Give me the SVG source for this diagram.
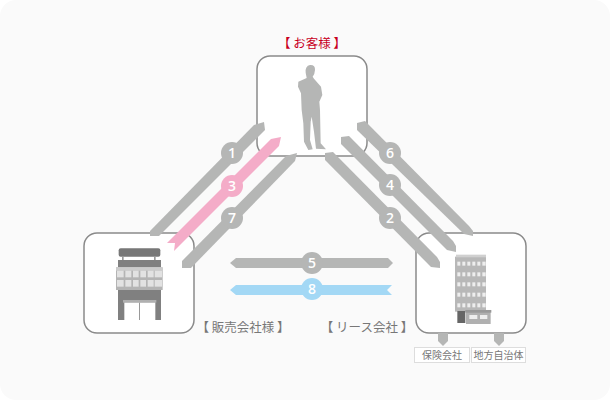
<svg xmlns="http://www.w3.org/2000/svg" width="610" height="400" viewBox="0 0 610 400">
<style>
.box{fill:#fff;stroke:#8a8a8a;stroke-width:1.5}
.g{fill:#b5b6b5}
.p{fill:#f4acc8}
.b{fill:#a3d8f5}
.num{font-family:"Open Sans","Noto Sans",sans-serif;font-size:14px;font-weight:600;fill:#fff;text-anchor:middle}
.lab{font-family:"Noto Sans CJK JP",sans-serif;font-size:12.5px;fill:#777;text-anchor:middle}
.small{font-family:"Noto Sans CJK JP",sans-serif;font-size:10px;fill:#777;text-anchor:middle}
.tag{fill:#fff;stroke:#ddd;stroke-width:1}
</style>
<rect x="0" y="0" width="610" height="400" fill="#fff"/>
<rect x="0" y="0" width="610" height="400" rx="16" fill="#fafafa"/>
<g id="node-customer">
<rect class="box" x="257" y="56" width="110" height="100" rx="13"/>
<g transform="translate(290 60) scale(.3333)">
<path class="g" d="M47 38Q45 18 60 15Q76 14 75 30Q74 44 68 50L72 56L93 80L97 105L88 125L90 150L92 250L108 268L78 266L72 215L65 170L62 185L60 240L68 268L55 270L42 245L40 190L35 150L33 100L24 80L25 65L50 54Z"/>
</g>
</g>
<g id="node-dealer">
<rect class="box" x="84" y="233" width="110" height="100" rx="13"/>
<g transform="translate(112 245) scale(.3333)">
<rect x="20" y="10" width="125" height="25" rx="6" fill="#777"/>
<rect x="30" y="35" width="5" height="12" fill="#999"/>
<rect x="126" y="35" width="5" height="12" fill="#999"/>
<rect x="18" y="45" width="129" height="22" fill="#808080"/>
<rect x="18" y="135" width="129" height="90" fill="#808080"/>
<rect x="12" y="67" width="140" height="68" fill="#b4b4b4"/>
<rect x="12" y="67" width="140" height="10" fill="#ccc"/>
<g fill="#e2e2e2">
<rect x="15" y="77" width="20" height="20"/><rect x="40" y="77" width="18" height="20"/><rect x="63" y="77" width="17" height="20"/><rect x="85" y="77" width="17" height="20"/><rect x="107" y="77" width="18" height="20"/><rect x="128" y="77" width="22" height="20"/>
<rect x="15" y="105" width="20" height="20"/><rect x="40" y="105" width="18" height="20"/><rect x="63" y="105" width="17" height="20"/><rect x="85" y="105" width="17" height="20"/><rect x="107" y="105" width="18" height="20"/><rect x="128" y="105" width="22" height="20"/>
</g>
<rect x="33" y="165" width="100" height="8" fill="#b0b0b0"/>
<rect x="37" y="173" width="93" height="52" fill="#fff"/>
<rect x="81" y="173" width="3" height="52" fill="#999"/>
</g>
</g>
<g id="node-lease">
<rect class="box" x="416" y="233" width="110" height="100" rx="13"/>
<g transform="translate(450 250) scale(.3333)">
<rect x="15" y="20" width="93" height="165" fill="#b8b8b8"/>
<rect x="18" y="14" width="90" height="8" fill="#d0d0d0"/>
<g fill="#eee">
<g id="r1"><rect x="22" y="35" width="9" height="12"/><rect x="37" y="35" width="9" height="12"/><rect x="52" y="35" width="9" height="12"/><rect x="67" y="35" width="9" height="12"/><rect x="82" y="35" width="9" height="12"/><rect x="97" y="35" width="10" height="12"/></g>
<use href="#r1" y="32"/><use href="#r1" y="62"/><use href="#r1" y="93"/><use href="#r1" y="125"/>
</g>
<rect x="22" y="183" width="24" height="36" fill="#666"/>
<rect x="48" y="183" width="74" height="39" fill="#b0b0b0"/>
<rect x="46" y="180" width="78" height="8" fill="#999"/>
<rect x="58" y="195" width="24" height="12" fill="#eee"/>
<rect x="90" y="195" width="22" height="12" fill="#eee"/>
</g>
</g>
<g id="node-insurance">
<rect class="tag" x="414.5" y="347.5" width="55" height="15"/>
<text class="small" x="442" y="359">保険会社</text>
</g>
<g id="node-municipality">
<rect class="tag" x="471.5" y="347.5" width="54" height="15"/>
<text class="small" x="498.5" y="359">地方自治体</text>
</g>
<g id="connectors">
<polygon class="g" points="150,231 254,125 264,122 265,130 159,236 150,236"/>
<polygon class="p" points="167,243 271,139 281,137 279,146 174,251 175,243"/>
<polygon class="g" points="182,261 286,156 297,153 295,161 191,268 182,268"/>
<polygon class="g" points="357,123 365,121 469,226 473,231 473,236 464,234 357,130"/>
<polygon class="g" points="341,137 349,136 453,241 456,246 456,252 447,250 341,144"/>
<polygon class="g" points="325,153 333,152 437,257 440,262 440,268 431,267 325,160"/>
<polygon class="g" points="230,263 236,258 388,258 393,263 388,268 236,268"/>
<polygon class="b" points="230,290 236,285 392,285 387,290 392,295 236,295"/>
<polygon class="g" points="438,333 448,333 448,341 443,346 438,341"/>
<polygon class="g" points="494,333 504,333 504,341 499,346 494,341"/>
<circle class="g" cx="232" cy="153" r="11"/><text class="num" x="232" y="158">1</text>
<circle class="p" cx="232" cy="186" r="11"/><text class="num" x="232" y="191">3</text>
<circle class="g" cx="232" cy="218" r="11"/><text class="num" x="232" y="223">7</text>
<circle class="g" cx="390" cy="153" r="11"/><text class="num" x="390" y="158">6</text>
<circle class="g" cx="390" cy="185" r="11"/><text class="num" x="390" y="190">4</text>
<circle class="g" cx="390" cy="218" r="11"/><text class="num" x="390" y="223">2</text>
<circle class="g" cx="312" cy="263" r="11"/><text class="num" x="312" y="268">5</text>
<circle class="b" cx="312" cy="289" r="11"/><text class="num" x="312" y="294">8</text>
</g>
<text class="lab" x="312" y="48" style="fill:#c8001e">【 お客様 】</text>
<text class="lab" x="243" y="332">【 販売会社様 】</text>
<text class="lab" x="367" y="332">【 リース会社 】</text>
</svg>
